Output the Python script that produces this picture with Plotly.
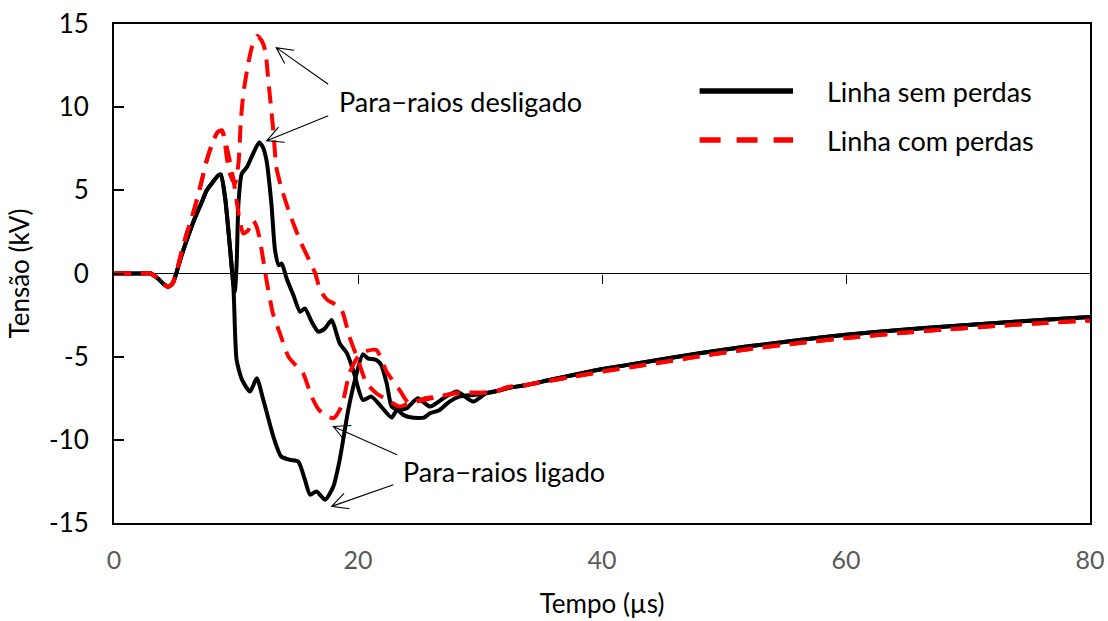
import math
import plotly.graph_objects as go

# ---- Tensão transitória (kV) em função do tempo (µs) ----
# trecho inicial comum a todas as curvas
t_inicio = [0.0, 2.0, 3.0, 3.6, 4.1, 4.45, 4.8, 5.1]
v_inicio = [0.0, 0.0, 0.0, -0.3, -0.65, -0.8, -0.6, 0.0]

# Linha sem perdas, para-raios desligado
t_sem_desl = [5.5, 5.96, 6.4, 6.78, 7.2, 7.6, 8.1, 8.55, 8.75, 9.1, 9.5, 9.75, 9.9,
              10.05, 10.2, 10.47, 10.9, 11.4, 11.9, 12.2, 12.5, 12.9, 13.2, 13.5,
              13.75, 14.15, 14.7, 15.25, 15.65, 16.2, 16.75, 17.3, 17.84, 18.5,
              19.1, 19.6, 20.4, 21.1, 21.9, 22.76, 23.2, 23.7, 24.4, 25.4, 25.9,
              26.7, 27.5, 28.3, 29.5, 30.5]
v_sem_desl = [1.0, 2.0, 2.9, 3.6, 4.3, 5.0, 5.5, 5.9, 5.95, 4.6, 1.6, -0.4, -1.1,
              0.5, 4.2, 6.0, 6.4, 7.2, 7.88, 7.6, 6.8, 4.2, 1.4, 0.5,
              0.6, -0.3, -1.3, -2.3, -2.1, -2.9, -3.5, -3.3, -2.8, -4.2,
              -4.8, -5.8, -7.6, -7.4, -8.0, -8.66, -8.2, -8.5, -8.66, -8.66, -8.4,
              -8.2, -7.7, -7.4, -7.3, -7.2]

# Linha sem perdas, para-raios ligado
t_sem_lig = [5.5, 5.96, 6.4, 6.78, 7.2, 7.6, 8.1, 8.55, 8.75, 9.1, 9.5, 9.8, 10.05,
             10.5, 11.15, 11.7, 12.24, 13.06, 13.7, 14.4, 15.1, 15.65, 16.07, 16.6,
             17.3, 17.98, 18.5, 19.2, 19.75, 20.4, 20.8, 21.5, 21.9, 22.35, 22.76,
             23.3, 24.0, 24.9, 25.9, 27.0, 28.1, 29.45, 30.5]
v_sem_lig = [1.0, 2.0, 2.9, 3.6, 4.3, 5.0, 5.5, 5.9, 5.95, 4.6, 1.6, -1.0, -5.2,
             -6.4, -7.1, -6.3, -7.6, -9.8, -11.0, -11.2, -11.3, -12.4, -13.3, -13.1,
             -13.6, -12.8, -11.2, -8.2, -6.4, -4.86, -5.1, -5.2, -5.5, -6.6, -8.0,
             -8.2, -8.1, -7.5, -8.0, -7.5, -7.1, -7.7, -7.2]

# Linha com perdas, para-raios desligado
t_com_desl = [5.5, 5.96, 6.4, 6.78, 7.2, 7.6, 8.14, 8.5, 8.83, 9.0, 9.24, 9.5, 9.9,
              10.2, 10.4, 10.6, 10.9, 11.3, 11.75, 12.1, 12.4, 12.65, 12.9, 13.1,
              13.3, 13.7, 14.4, 15.25, 16.0, 16.5, 16.9, 17.5, 18.0, 18.66, 19.3,
              20.0, 20.7, 21.5, 22.4, 23.4, 24.2, 25.5, 26.6, 28.0, 30.5]
v_com_desl = [1.2, 2.4, 3.4, 4.4, 5.6, 6.8, 8.0, 8.5, 8.6, 8.3, 7.0, 6.0, 5.4,
              6.6, 9.2, 10.8, 12.2, 13.6, 14.28, 14.0, 13.4, 11.6, 9.8, 8.2,
              6.4, 5.2, 3.6, 1.98, 0.8, 0.0, -1.0, -1.6, -1.8, -2.2, -3.8,
              -5.2, -6.6, -7.2, -7.6, -8.0, -7.8, -7.6, -7.4, -7.2, -7.15]

# Linha com perdas, para-raios ligado
t_com_lig = [5.5, 5.96, 6.4, 6.78, 7.2, 7.6, 8.14, 8.5, 8.83, 9.0, 9.37, 9.8, 10.05,
             10.3, 10.6, 11.0, 11.4, 11.7, 11.97, 12.5, 13.06, 13.6, 14.3, 15.0,
             15.5, 16.2, 16.8, 17.5, 18.0, 18.5, 18.8, 19.3, 20.0, 20.5, 21.5,
             22.35, 23.4, 24.2, 25.5, 26.6, 28.0, 30.5]
v_com_lig = [1.2, 2.4, 3.4, 4.4, 5.6, 6.8, 8.0, 8.5, 8.6, 8.3, 7.18, 5.6, 4.38,
             3.2, 2.4, 2.6, 3.2, 2.8, 1.98, -0.4, -2.5, -3.6, -5.0, -5.6,
             -6.0, -7.4, -8.2, -8.6, -8.7, -8.2, -7.6, -6.0, -5.0, -4.7, -4.6,
             -5.9, -7.0, -7.8, -7.5, -7.4, -7.2, -7.15]

# cauda comum (as duas condições do para-raios coincidem)
t_cauda = [31.5, 32.2, 33.8, 35.7, 37.65, 40.4, 43.1, 48.0, 52.0, 56.2, 60.0,
           64.4, 68.5, 72.6, 76.3, 80.0]
v_cauda_sem = [-7.05, -6.9, -6.7, -6.4, -6.1, -5.7, -5.38, -4.8, -4.38, -4.0, -3.68,
               -3.4, -3.17, -2.96, -2.78, -2.62]
v_cauda_com = [-7.05, -6.85, -6.7, -6.45, -6.2, -5.85, -5.55, -4.98, -4.55, -4.18, -3.88,
               -3.58, -3.35, -3.14, -2.97, -2.82]

legenda = ["Linha sem perdas", "Linha com perdas"]
rotulo_desligado = "Para−raios desligado"
rotulo_ligado = "Para−raios ligado"
x_ticks = [0, 20, 40, 60, 80]
y_ticks = [-15, -10, -5, 0, 5, 10, 15]
y_ticktext = ["-15", "-10", "-5", "0", "5", "10", "15"]

# ---- geometria da figura ----
W, H = 1108, 621
M = dict(l=114, r=18, t=24, b=98)
X_RANGE = [0, 80]
Y_RANGE = [-15, 15]
px_x = (W - M["l"] - M["r"]) / (X_RANGE[1] - X_RANGE[0])
px_y = (H - M["t"] - M["b"]) / (Y_RANGE[1] - Y_RANGE[0])

FONT = "Lato"
PRETO = "#000000"
VERMELHO = "#ff0000"
LW = 4
DASH = "17px,10px"

fig = go.Figure()


def serie(t, v, cauda):
    return t_inicio + t + t_cauda, v_inicio + v + cauda


curvas = [
    (t_sem_desl, v_sem_desl, v_cauda_sem, PRETO, "solid", legenda[0]),
    (t_sem_lig, v_sem_lig, v_cauda_sem, PRETO, "solid", legenda[0]),
    (t_com_desl, v_com_desl, v_cauda_com, VERMELHO, DASH, legenda[1]),
    (t_com_lig, v_com_lig, v_cauda_com, VERMELHO, DASH, legenda[1]),
]
for t, v, cauda, cor, estilo, nome in curvas:
    xs, ys = serie(t, v, cauda)
    fig.add_trace(go.Scatter(
        x=xs, y=ys, mode="lines", name=nome, showlegend=False,
        line=dict(color=cor, width=LW, dash=estilo, shape="spline", smoothing=0.6),
    ))

# eixo auxiliar para as marcas de escala sobre a linha de tensão zero
fig.add_trace(go.Scatter(x=[], y=[], xaxis="x2", yaxis="y", showlegend=False,
                         hoverinfo="skip"))


# ---- setas das anotações (ponta aberta em "V") ----
def seta(x0, y0, x1, y1, comp=18, ang=27):
    """Linha de (x0,y0) até a ponta (x1,y1), com ponta aberta."""
    dx = (x1 - x0) * px_x
    dy = (y1 - y0) * px_y
    a = math.atan2(dy, dx)
    pts = []
    for s in (+1, -1):
        b = a + math.pi + s * math.radians(ang)
        pts.append((x1 + comp * math.cos(b) / px_x, y1 + comp * math.sin(b) / px_y))
    path = (f"M {x0},{y0} L {x1},{y1} "
            f"M {pts[0][0]},{pts[0][1]} L {x1},{y1} L {pts[1][0]},{pts[1][1]}")
    fig.add_shape(type="path", path=path, xref="x", yref="y",
                  line=dict(color=PRETO, width=1.1))


seta(17.56, 11.38, 13.3, 13.58)
seta(17.56, 9.48, 12.52, 7.98)
seta(23.2, -10.9, 17.98, -9.2)
seta(22.9, -12.7, 17.84, -14.0)

fig.add_annotation(x=18.3, y=10.35, text=rotulo_desligado, showarrow=False,
                   xanchor="left", yanchor="middle",
                   font=dict(family=FONT, size=27, color=PRETO))
fig.add_annotation(x=23.5, y=-11.9, text=rotulo_ligado, showarrow=False,
                   xanchor="left", yanchor="middle",
                   font=dict(family=FONT, size=27, color=PRETO))

# ---- legenda desenhada ----
leg_x0, leg_x1, leg_tx = 48.0, 55.66, 58.3
leg_y = [10.97, 8.02]
estilos = [(PRETO, "solid"), (VERMELHO, "21px,16px")]
for (cor, estilo), yy, nome in zip(estilos, leg_y, legenda):
    fig.add_shape(type="line", xref="x", yref="y", x0=leg_x0, x1=leg_x1, y0=yy, y1=yy,
                  line=dict(color=cor, width=5.5, dash=estilo))
    fig.add_annotation(x=leg_tx, y=yy, text=nome, showarrow=False, xanchor="left",
                       yanchor="middle", font=dict(family=FONT, size=27, color=PRETO))

fig.update_layout(
    width=W, height=H, margin=M,
    paper_bgcolor="white", plot_bgcolor="white",
    font=dict(family=FONT, color=PRETO),
    showlegend=False,
    xaxis=dict(
        range=X_RANGE, tickvals=x_ticks, showgrid=False, zeroline=False,
        showline=True, mirror=True, linecolor=PRETO, linewidth=2,
        ticks="", tickfont=dict(family=FONT, size=25, color="#595959"),
        ticklabelstandoff=14, automargin=False,
        title=dict(text="Tempo (µs)", font=dict(family=FONT, size=26, color=PRETO),
                   standoff=22),
    ),
    xaxis2=dict(
        range=X_RANGE, overlaying="x", anchor="free", position=0.5, side="bottom",
        tickvals=x_ticks[1:-1], ticks="outside", ticklen=9, tickwidth=1.3,
        tickcolor=PRETO, showticklabels=False, showgrid=False, zeroline=False,
        showline=False, automargin=False,
    ),
    yaxis=dict(
        range=Y_RANGE, tickvals=y_ticks, ticktext=y_ticktext, showgrid=False,
        zeroline=True, zerolinecolor=PRETO, zerolinewidth=1.3,
        showline=True, mirror=True, linecolor=PRETO, linewidth=2,
        ticks="inside", ticklen=10, tickwidth=2, tickcolor=PRETO,
        tickfont=dict(family=FONT, size=26, color=PRETO),
        ticklabelstandoff=18, automargin=False,
        title=dict(text="Tensão (kV)", font=dict(family=FONT, size=26, color=PRETO),
                   standoff=12),
    ),
)

fig.write_html("out.html")
